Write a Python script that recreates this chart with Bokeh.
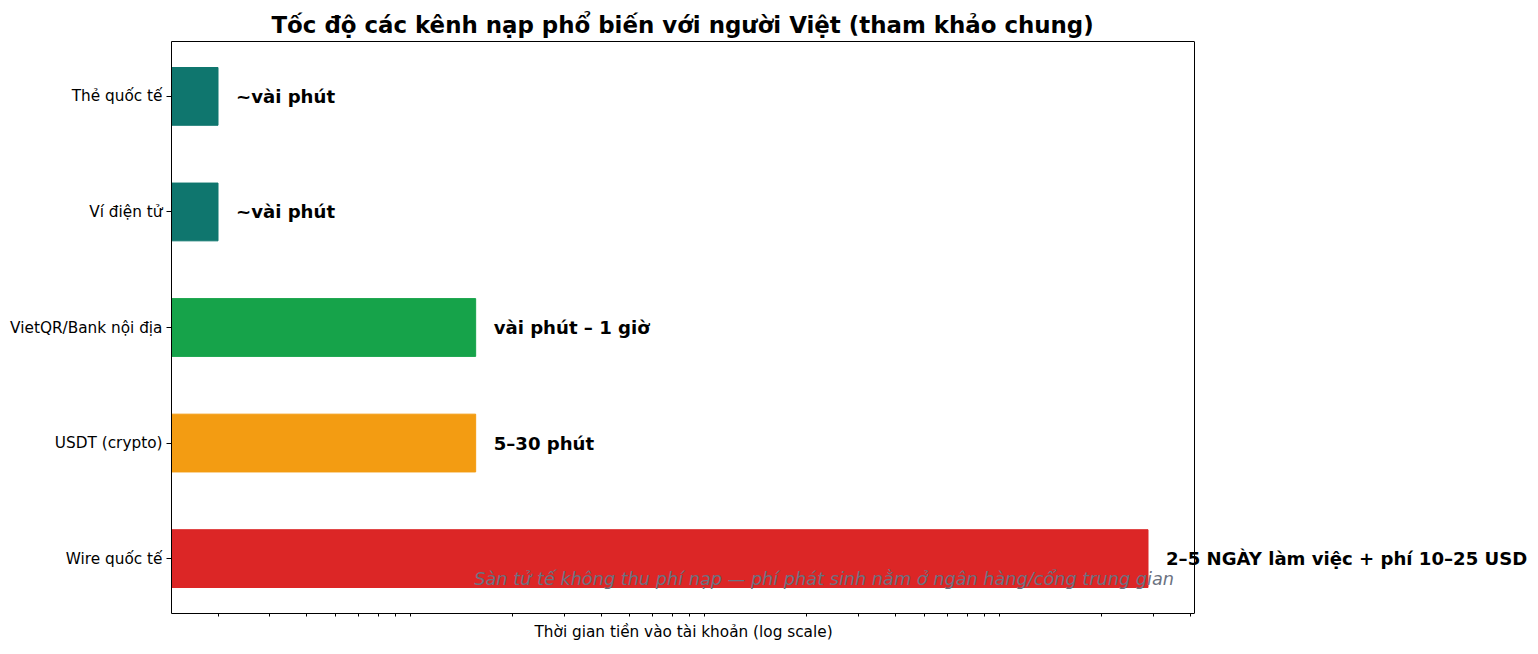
import math

from bokeh.embed import file_html
from bokeh.models import ColumnDataSource, FixedTicker, Label, LogAxis, Range1d, Span, Title
from bokeh.plotting import figure
from bokeh.resources import INLINE

# data: deposit channels, time (minutes) until funds arrive
channels = ["Wire quốc tế", "USDT (crypto)", "VietQR/Bank nội địa", "Ví điện tử", "Thẻ quốc tế"]
minutes = [2880, 15, 15, 2, 2]
speed_labels = [
    "2–5 NGÀY làm việc + phí 10–25 USD",
    "5–30 phút",
    "vài phút – 1 giờ",
    "~vài phút",
    "~vài phút",
]
colors = ["#dc2626", "#f39c12", "#16a34a", "#0f766e", "#0f766e"]
note = "Sàn tử tế không thu phí nạp — phí phát sinh nằm ở ngân hàng/cổng trung gian"

FONT = "DejaVu Sans"
AXES_W = 1023      # visible axes box width (px)
CANVAS_W = 1530
LEFT = 171

# log-scale limits with a 5% margin, like matplotlib autoscaling
lo, hi = math.log10(min(minutes)), math.log10(max(minutes))
pad = 0.05 * (hi - lo)
x_lo, x_hi = 10 ** (lo - pad), 10 ** (hi + pad)
y_lo, y_hi = -0.475, len(channels) - 1 + 0.475

# the frame runs to the canvas edge so the long label is not clipped;
# the visible axes box stops at x_hi
frame_w = CANVAS_W - LEFT
x_end = 10 ** (math.log10(x_lo) + (math.log10(x_hi) - math.log10(x_lo)) * frame_w / AXES_W)

source = ColumnDataSource(
    {
        "y": list(range(len(channels))),
        "minutes": minutes,
        "base": [x_lo / 2] * len(channels),
        "color": colors,
    }
)

p = figure(
    width=CANVAS_W,
    height=646,
    x_axis_type="log",
    x_range=Range1d(x_lo, x_end),
    y_range=Range1d(y_lo, y_hi),
    min_border_left=LEFT,
    min_border_right=0,
    min_border_top=41,
    min_border_bottom=33,
    output_backend="svg",
    toolbar_location=None,
    title="Tốc độ các kênh nạp phổ biến với người Việt (tham khảo chung)",
)
p.hbar(y="y", left="base", right="minutes", height=0.5, color="color", source=source)

# value labels next to each bar
for i, (m, txt) in enumerate(zip(minutes, speed_labels)):
    p.add_layout(
        Label(
            x=m,
            y=i,
            text=txt,
            x_offset=18,
            text_baseline="middle",
            text_font=FONT,
            text_font_style="bold",
            text_font_size="18.1px",
            text_color="black",
        )
    )

# note in axes-fraction position (bottom right)
note_x = 10 ** (math.log10(x_lo) + 0.98 * (math.log10(x_hi) - math.log10(x_lo)))
note_y = y_lo + 0.06 * (y_hi - y_lo)
p.add_layout(
    Label(
        x=note_x,
        y=note_y,
        text=note,
        text_align="right",
        text_baseline="middle",
        text_font=FONT,
        text_font_style="italic",
        text_font_size="17.7px",
        text_color="#6b7280",
    )
)

p.title.align = "left"
p.title.offset = 100
p.title.text_font = FONT
p.title.text_font_size = "22.9px"
p.title.text_font_style = "bold"
p.title.text_color = "black"
p.title.standoff = 7

p.grid.visible = False
p.outline_line_color = None

# axes box: bottom axis + empty top axis limited to the visible range, right edge as a span
p.xaxis.bounds = (x_lo, x_hi)
p.xaxis.ticker = FixedTicker(
    ticks=[],
    minor_ticks=[m * 10**k for k in range(0, 4) for m in range(2, 10) if m * 10**k <= x_hi],
)
p.xaxis.minor_tick_in = 0
p.xaxis.minor_tick_out = 3
p.xaxis.major_tick_out = 0
p.xaxis.major_label_text_font_size = "0px"

# x label as a title below, centred under the visible axes box
p.add_layout(
    Title(
        text="Thời gian tiền vào tài khoản (log scale)",
        align="left",
        offset=363,
        standoff=9,
        text_font=FONT,
        text_font_size="15.3px",
        text_font_style="normal",
        text_color="black",
    ),
    "below",
)

top_axis = LogAxis(
    bounds=(x_lo, x_hi),
    ticker=FixedTicker(ticks=[], minor_ticks=[]),
    axis_line_color="black",
    major_tick_out=0,
    major_tick_in=0,
    minor_tick_out=0,
    minor_tick_in=0,
    major_label_text_font_size="0px",
    major_label_standoff=0,
    axis_label_standoff=0,
)
p.add_layout(top_axis, "above")
p.add_layout(Span(location=x_hi, dimension="height", line_color="black", line_width=1))

p.yaxis.ticker = FixedTicker(ticks=list(range(len(channels))))
p.yaxis.major_label_overrides = {i: name for i, name in enumerate(channels)}
p.yaxis.major_label_text_font = FONT
p.yaxis.major_label_text_font_size = "15.3px"
p.yaxis.major_label_text_color = "black"
p.yaxis.minor_tick_line_color = None
p.yaxis.major_tick_in = 0
p.yaxis.major_tick_out = 5
p.yaxis.major_label_standoff = 4

for ax in (p.xaxis, p.yaxis):
    ax.axis_line_color = "black"
    ax.major_tick_line_color = "black"

open("out.html", "w").write(file_html(p, INLINE))
